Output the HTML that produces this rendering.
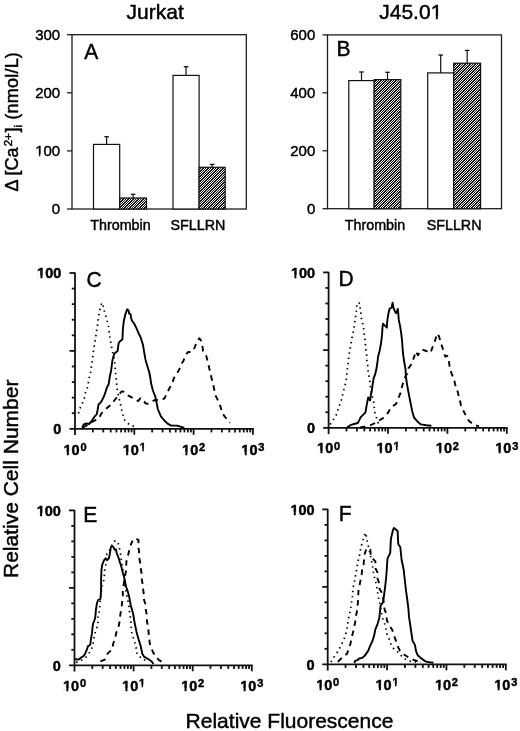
<!DOCTYPE html><html><head><meta charset="utf-8"><style>html,body{margin:0;padding:0;background:#fff;}svg{display:block;filter:grayscale(1);} text{stroke:#000;stroke-width:0.45px;}</style></head><body>
<svg width="520" height="731" viewBox="0 0 520 731" font-family='"Liberation Sans", sans-serif' fill="#000">
<rect width="520" height="731" fill="#fff"/>
<text x="155.2" y="19.2" text-anchor="middle" font-size="21">Jurkat</text>
<text x="410.8" y="18.8" text-anchor="middle" font-size="21">J45.01</text>
<g transform="translate(18,0) rotate(-90)" font-size="18"><text x="-191.6" y="0">&#916; [Ca</text><text x="-146.3" y="-6.2" font-size="11.5">2+</text><text x="-132.4" y="0">]</text><text x="-127.6" y="4.4" font-size="11.5">i</text><text x="-119.7" y="0" letter-spacing="0.22">(nmol/L)</text></g>
<rect x="72" y="34.7" width="174.3" height="174.3" fill="none" stroke="#1e1e1e" stroke-width="1.3"/>
<line x1="67" y1="209" x2="72" y2="209" stroke="#1e1e1e" stroke-width="1.3"/>
<text x="60.2" y="214.2" text-anchor="end" font-size="15">0</text>
<line x1="67" y1="150.9" x2="72" y2="150.9" stroke="#1e1e1e" stroke-width="1.3"/>
<text x="60.2" y="156.1" text-anchor="end" font-size="15">100</text>
<line x1="67" y1="92.8" x2="72" y2="92.8" stroke="#1e1e1e" stroke-width="1.3"/>
<text x="60.2" y="98" text-anchor="end" font-size="15">200</text>
<line x1="67" y1="34.7" x2="72" y2="34.7" stroke="#1e1e1e" stroke-width="1.3"/>
<text x="60.2" y="39.9" text-anchor="end" font-size="15">300</text>
<rect x="93.5" y="144.4" width="26.2" height="64.6" fill="#fff" stroke="#111" stroke-width="1.2"/>
<line x1="106.6" y1="144.4" x2="106.6" y2="136.7" stroke="#111" stroke-width="1.2"/>
<line x1="104.3" y1="136.7" x2="108.9" y2="136.7" stroke="#111" stroke-width="1.3"/>
<clipPath id="c1"><rect x="119.7" y="198" width="26.8" height="11"/></clipPath>
<rect x="119.7" y="198" width="26.8" height="11" fill="#fff"/>
<path clip-path="url(#c1)" d="M108.7 209L119.7 198M111.2 209L122.2 198M113.7 209L124.7 198M116.2 209L127.2 198M118.7 209L129.7 198M121.2 209L132.2 198M123.7 209L134.7 198M126.2 209L137.2 198M128.7 209L139.7 198M131.2 209L142.2 198M133.7 209L144.7 198M136.2 209L147.2 198M138.7 209L149.7 198M141.2 209L152.2 198M143.7 209L154.7 198M146.2 209L157.2 198" stroke="#111" stroke-width="1.0" fill="none" shape-rendering="crispEdges"/>
<rect x="119.7" y="198" width="26.8" height="11" fill="none" stroke="#111" stroke-width="1.2"/>
<line x1="133.1" y1="198" x2="133.1" y2="194.3" stroke="#111" stroke-width="1.2"/>
<line x1="130.8" y1="194.3" x2="135.4" y2="194.3" stroke="#111" stroke-width="1.3"/>
<rect x="173" y="75.4" width="26.1" height="133.6" fill="#fff" stroke="#111" stroke-width="1.2"/>
<line x1="186.05" y1="75.4" x2="186.05" y2="66.7" stroke="#111" stroke-width="1.2"/>
<line x1="183.75" y1="66.7" x2="188.35" y2="66.7" stroke="#111" stroke-width="1.3"/>
<clipPath id="c2"><rect x="199.1" y="167.3" width="26.1" height="41.7"/></clipPath>
<rect x="199.1" y="167.3" width="26.1" height="41.7" fill="#fff"/>
<path clip-path="url(#c2)" d="M157.4 209L199.1 167.3M159.9 209L201.6 167.3M162.4 209L204.1 167.3M164.9 209L206.6 167.3M167.4 209L209.1 167.3M169.9 209L211.6 167.3M172.4 209L214.1 167.3M174.9 209L216.6 167.3M177.4 209L219.1 167.3M179.9 209L221.6 167.3M182.4 209L224.1 167.3M184.9 209L226.6 167.3M187.4 209L229.1 167.3M189.9 209L231.6 167.3M192.4 209L234.1 167.3M194.9 209L236.6 167.3M197.4 209L239.1 167.3M199.9 209L241.6 167.3M202.4 209L244.1 167.3M204.9 209L246.6 167.3M207.4 209L249.1 167.3M209.9 209L251.6 167.3M212.4 209L254.1 167.3M214.9 209L256.6 167.3M217.4 209L259.1 167.3M219.9 209L261.6 167.3M222.4 209L264.1 167.3M224.9 209L266.6 167.3" stroke="#111" stroke-width="1.0" fill="none" shape-rendering="crispEdges"/>
<rect x="199.1" y="167.3" width="26.1" height="41.7" fill="none" stroke="#111" stroke-width="1.2"/>
<line x1="212.15" y1="167.3" x2="212.15" y2="164.4" stroke="#111" stroke-width="1.2"/>
<line x1="209.85" y1="164.4" x2="214.45" y2="164.4" stroke="#111" stroke-width="1.3"/>
<text transform="translate(84.2,58.5) scale(1,1.08)" font-size="21">A</text>
<text x="120.5" y="229.7" text-anchor="middle" font-size="14.3">Thrombin</text>
<text x="198" y="229.7" text-anchor="middle" font-size="14.3">SFLLRN</text>
<rect x="327.5" y="34.9" width="174" height="173.8" fill="none" stroke="#1e1e1e" stroke-width="1.3"/>
<line x1="322.5" y1="208.7" x2="327.5" y2="208.7" stroke="#1e1e1e" stroke-width="1.3"/>
<text x="315.3" y="213.9" text-anchor="end" font-size="15">0</text>
<line x1="322.5" y1="150.77" x2="327.5" y2="150.77" stroke="#1e1e1e" stroke-width="1.3"/>
<text x="315.3" y="155.97" text-anchor="end" font-size="15">200</text>
<line x1="322.5" y1="92.83" x2="327.5" y2="92.83" stroke="#1e1e1e" stroke-width="1.3"/>
<text x="315.3" y="98.03" text-anchor="end" font-size="15">400</text>
<line x1="322.5" y1="34.9" x2="327.5" y2="34.9" stroke="#1e1e1e" stroke-width="1.3"/>
<text x="315.3" y="40.1" text-anchor="end" font-size="15">600</text>
<rect x="348.8" y="80.6" width="25.4" height="128.1" fill="#fff" stroke="#111" stroke-width="1.2"/>
<line x1="361.5" y1="80.6" x2="361.5" y2="72" stroke="#111" stroke-width="1.2"/>
<line x1="359.2" y1="72" x2="363.8" y2="72" stroke="#111" stroke-width="1.3"/>
<clipPath id="c3"><rect x="374.2" y="79.6" width="26.6" height="129.1"/></clipPath>
<rect x="374.2" y="79.6" width="26.6" height="129.1" fill="#fff"/>
<path clip-path="url(#c3)" d="M245.1 208.7L374.2 79.6M247.6 208.7L376.7 79.6M250.1 208.7L379.2 79.6M252.6 208.7L381.7 79.6M255.1 208.7L384.2 79.6M257.6 208.7L386.7 79.6M260.1 208.7L389.2 79.6M262.6 208.7L391.7 79.6M265.1 208.7L394.2 79.6M267.6 208.7L396.7 79.6M270.1 208.7L399.2 79.6M272.6 208.7L401.7 79.6M275.1 208.7L404.2 79.6M277.6 208.7L406.7 79.6M280.1 208.7L409.2 79.6M282.6 208.7L411.7 79.6M285.1 208.7L414.2 79.6M287.6 208.7L416.7 79.6M290.1 208.7L419.2 79.6M292.6 208.7L421.7 79.6M295.1 208.7L424.2 79.6M297.6 208.7L426.7 79.6M300.1 208.7L429.2 79.6M302.6 208.7L431.7 79.6M305.1 208.7L434.2 79.6M307.6 208.7L436.7 79.6M310.1 208.7L439.2 79.6M312.6 208.7L441.7 79.6M315.1 208.7L444.2 79.6M317.6 208.7L446.7 79.6M320.1 208.7L449.2 79.6M322.6 208.7L451.7 79.6M325.1 208.7L454.2 79.6M327.6 208.7L456.7 79.6M330.1 208.7L459.2 79.6M332.6 208.7L461.7 79.6M335.1 208.7L464.2 79.6M337.6 208.7L466.7 79.6M340.1 208.7L469.2 79.6M342.6 208.7L471.7 79.6M345.1 208.7L474.2 79.6M347.6 208.7L476.7 79.6M350.1 208.7L479.2 79.6M352.6 208.7L481.7 79.6M355.1 208.7L484.2 79.6M357.6 208.7L486.7 79.6M360.1 208.7L489.2 79.6M362.6 208.7L491.7 79.6M365.1 208.7L494.2 79.6M367.6 208.7L496.7 79.6M370.1 208.7L499.2 79.6M372.6 208.7L501.7 79.6M375.1 208.7L504.2 79.6M377.6 208.7L506.7 79.6M380.1 208.7L509.2 79.6M382.6 208.7L511.7 79.6M385.1 208.7L514.2 79.6M387.6 208.7L516.7 79.6M390.1 208.7L519.2 79.6M392.6 208.7L521.7 79.6M395.1 208.7L524.2 79.6M397.6 208.7L526.7 79.6M400.1 208.7L529.2 79.6M402.6 208.7L531.7 79.6" stroke="#111" stroke-width="1.0" fill="none" shape-rendering="crispEdges"/>
<rect x="374.2" y="79.6" width="26.6" height="129.1" fill="none" stroke="#111" stroke-width="1.2"/>
<line x1="387.5" y1="79.6" x2="387.5" y2="72.3" stroke="#111" stroke-width="1.2"/>
<line x1="385.2" y1="72.3" x2="389.8" y2="72.3" stroke="#111" stroke-width="1.3"/>
<rect x="427.7" y="72.9" width="26" height="135.8" fill="#fff" stroke="#111" stroke-width="1.2"/>
<line x1="440.7" y1="72.9" x2="440.7" y2="55" stroke="#111" stroke-width="1.2"/>
<line x1="438.4" y1="55" x2="443" y2="55" stroke="#111" stroke-width="1.3"/>
<clipPath id="c4"><rect x="453.7" y="63.2" width="26.9" height="145.5"/></clipPath>
<rect x="453.7" y="63.2" width="26.9" height="145.5" fill="#fff"/>
<path clip-path="url(#c4)" d="M308.2 208.7L453.7 63.2M310.7 208.7L456.2 63.2M313.2 208.7L458.7 63.2M315.7 208.7L461.2 63.2M318.2 208.7L463.7 63.2M320.7 208.7L466.2 63.2M323.2 208.7L468.7 63.2M325.7 208.7L471.2 63.2M328.2 208.7L473.7 63.2M330.7 208.7L476.2 63.2M333.2 208.7L478.7 63.2M335.7 208.7L481.2 63.2M338.2 208.7L483.7 63.2M340.7 208.7L486.2 63.2M343.2 208.7L488.7 63.2M345.7 208.7L491.2 63.2M348.2 208.7L493.7 63.2M350.7 208.7L496.2 63.2M353.2 208.7L498.7 63.2M355.7 208.7L501.2 63.2M358.2 208.7L503.7 63.2M360.7 208.7L506.2 63.2M363.2 208.7L508.7 63.2M365.7 208.7L511.2 63.2M368.2 208.7L513.7 63.2M370.7 208.7L516.2 63.2M373.2 208.7L518.7 63.2M375.7 208.7L521.2 63.2M378.2 208.7L523.7 63.2M380.7 208.7L526.2 63.2M383.2 208.7L528.7 63.2M385.7 208.7L531.2 63.2M388.2 208.7L533.7 63.2M390.7 208.7L536.2 63.2M393.2 208.7L538.7 63.2M395.7 208.7L541.2 63.2M398.2 208.7L543.7 63.2M400.7 208.7L546.2 63.2M403.2 208.7L548.7 63.2M405.7 208.7L551.2 63.2M408.2 208.7L553.7 63.2M410.7 208.7L556.2 63.2M413.2 208.7L558.7 63.2M415.7 208.7L561.2 63.2M418.2 208.7L563.7 63.2M420.7 208.7L566.2 63.2M423.2 208.7L568.7 63.2M425.7 208.7L571.2 63.2M428.2 208.7L573.7 63.2M430.7 208.7L576.2 63.2M433.2 208.7L578.7 63.2M435.7 208.7L581.2 63.2M438.2 208.7L583.7 63.2M440.7 208.7L586.2 63.2M443.2 208.7L588.7 63.2M445.7 208.7L591.2 63.2M448.2 208.7L593.7 63.2M450.7 208.7L596.2 63.2M453.2 208.7L598.7 63.2M455.7 208.7L601.2 63.2M458.2 208.7L603.7 63.2M460.7 208.7L606.2 63.2M463.2 208.7L608.7 63.2M465.7 208.7L611.2 63.2M468.2 208.7L613.7 63.2M470.7 208.7L616.2 63.2M473.2 208.7L618.7 63.2M475.7 208.7L621.2 63.2M478.2 208.7L623.7 63.2M480.7 208.7L626.2 63.2" stroke="#111" stroke-width="1.0" fill="none" shape-rendering="crispEdges"/>
<rect x="453.7" y="63.2" width="26.9" height="145.5" fill="none" stroke="#111" stroke-width="1.2"/>
<line x1="467.15" y1="63.2" x2="467.15" y2="50.4" stroke="#111" stroke-width="1.2"/>
<line x1="464.85" y1="50.4" x2="469.45" y2="50.4" stroke="#111" stroke-width="1.3"/>
<text transform="translate(336.5,55.6) scale(1,1.08)" font-size="21">B</text>
<text x="375" y="229.7" text-anchor="middle" font-size="14.3">Thrombin</text>
<text x="454.1" y="229.7" text-anchor="middle" font-size="14.3">SFLLRN</text>
<g stroke="#111" stroke-width="1.8" fill="none">
<line x1="75" y1="272.5" x2="75" y2="435.1"/>
<line x1="69.5" y1="428.8" x2="253.8" y2="428.8"/>
<line x1="71.8" y1="413.22" x2="75" y2="413.22"/>
<line x1="71.8" y1="397.64" x2="75" y2="397.64"/>
<line x1="71.8" y1="382.06" x2="75" y2="382.06"/>
<line x1="71.8" y1="366.48" x2="75" y2="366.48"/>
<line x1="69.5" y1="350.9" x2="75" y2="350.9"/>
<line x1="71.8" y1="335.32" x2="75" y2="335.32"/>
<line x1="71.8" y1="319.74" x2="75" y2="319.74"/>
<line x1="71.8" y1="304.16" x2="75" y2="304.16"/>
<line x1="71.8" y1="288.58" x2="75" y2="288.58"/>
<line x1="69.5" y1="273" x2="75" y2="273"/>
<line x1="92.85" y1="428.8" x2="92.85" y2="432.4"/>
<line x1="103.29" y1="428.8" x2="103.29" y2="432.4"/>
<line x1="110.7" y1="428.8" x2="110.7" y2="432.4"/>
<line x1="116.45" y1="428.8" x2="116.45" y2="432.4"/>
<line x1="121.14" y1="428.8" x2="121.14" y2="432.4"/>
<line x1="125.11" y1="428.8" x2="125.11" y2="432.4"/>
<line x1="128.55" y1="428.8" x2="128.55" y2="432.4"/>
<line x1="131.59" y1="428.8" x2="131.59" y2="432.4"/>
<line x1="134.3" y1="428.8" x2="134.3" y2="434.8"/>
<line x1="152.15" y1="428.8" x2="152.15" y2="432.4"/>
<line x1="162.59" y1="428.8" x2="162.59" y2="432.4"/>
<line x1="170" y1="428.8" x2="170" y2="432.4"/>
<line x1="175.75" y1="428.8" x2="175.75" y2="432.4"/>
<line x1="180.44" y1="428.8" x2="180.44" y2="432.4"/>
<line x1="184.41" y1="428.8" x2="184.41" y2="432.4"/>
<line x1="187.85" y1="428.8" x2="187.85" y2="432.4"/>
<line x1="190.89" y1="428.8" x2="190.89" y2="432.4"/>
<line x1="193.6" y1="428.8" x2="193.6" y2="434.8"/>
<line x1="211.45" y1="428.8" x2="211.45" y2="432.4"/>
<line x1="221.89" y1="428.8" x2="221.89" y2="432.4"/>
<line x1="229.3" y1="428.8" x2="229.3" y2="432.4"/>
<line x1="235.05" y1="428.8" x2="235.05" y2="432.4"/>
<line x1="239.74" y1="428.8" x2="239.74" y2="432.4"/>
<line x1="243.71" y1="428.8" x2="243.71" y2="432.4"/>
<line x1="247.15" y1="428.8" x2="247.15" y2="432.4"/>
<line x1="250.19" y1="428.8" x2="250.19" y2="432.4"/>
<line x1="252.9" y1="428.8" x2="252.9" y2="434.8"/>
</g>
<polyline points="78.4,413.4 80.3,407.6 82.7,402.3 84.7,397 85.6,391.7 88,386.4 88.5,381.2 89.5,376.3 90.9,371 91.4,365.8 92.3,360.5 93.6,350 95.2,340 96.2,334.1 96.9,328.4 97.9,323.1 98.4,317.8 99.3,312.5 100.3,307.7 101.5,304 102.9,302.9 103.4,308.2 105.1,313.5 106.3,318.3 108,323.6 108.9,328.8 109.4,334.1 110.2,339.9 111.3,345 112.1,350.2 114.5,360 115,365.8 115.4,371 115.9,376.3 116.4,381.6 116.9,386.9 117.8,392.2 118.8,397.5 120.2,402.8 121.2,408.1 122.6,413.4 123.6,418.7 128,423.5 132.4,425.9 137.2,427.4" fill="none" stroke="#000" stroke-width="1.75" stroke-dasharray="1.45 3.85" stroke-linejoin="round"/>
<polyline points="82.25,427.8 83.7,424.4 86.6,423.5 89,424 91.4,421.5 93.8,417.7 95.2,415.8 96.7,414.3 97.6,410 98.6,404.2 100,403.3 101.5,401.3 103.9,396.5 105.3,392.7 106.8,387.9 108.7,384 109.7,377.3 111.1,370.6 112.1,362.9 112.5,360 114.2,353.8 117.6,351 118.6,343.3 120,341.3 122.4,339.4 122.9,328.8 123.8,321.2 125.3,314.4 127.2,309.3 128.65,310.6 129.1,313.5 130.6,314.4 131.3,318.75 132,320.7 134.4,324 136.3,327.9 138.75,333.65 140.5,337 143,344.9 144.2,352.3 145.5,359.7 147.3,365.9 149.2,372 150.4,378.2 151,383.1 152.9,390.5 155.3,396.7 156.6,402.8 157.8,409 160.9,416.4 163.9,420 167.6,423.7 171.3,425.6 176.9,425.6 181.2,426.8 184.3,428" fill="none" stroke="#000" stroke-width="1.9" stroke-linejoin="round"/>
<polyline points="82.5,427.5 87.5,425 92.8,421.5 98.6,418.7 101.5,413.4 105.8,409 111.1,404.7 115.1,399.5 119.3,394.2 121.5,391.5 123.2,391.5 128.5,395.7 133.2,398.2 138.2,401.1 140.5,398.2 142.8,399.5 145.5,403.4 147.5,403.8 149.7,402.6 154.1,400.3 159.6,399.7 164.6,398.5 166.4,394.2 168.9,389.3 172.6,382.5 173.8,378.2 177.5,372.6 180.4,367.4 181.9,363.2 183.5,360.8 185,356.6 187.7,352.2 192.7,351.6 194,349 195.4,345.5 197.7,340.5 199.3,338.3 200.8,340.1 202.3,345.5 203.1,351.2 206.2,355.8 207.7,361.6 208.8,366.2 210.8,375.1 213.5,386.1 215.6,395.7 219.7,403.9 222.4,413.4 226.5,418.9 229.9,423" fill="none" stroke="#000" stroke-width="1.9" stroke-dasharray="5.5 4.8" stroke-linejoin="round"/>
<text x="61.3" y="278.2" text-anchor="end" font-size="14.5" font-weight="bold">100</text>
<text x="61.3" y="434" text-anchor="end" font-size="14.5" font-weight="bold">0</text>
<text x="75" y="454.7" text-anchor="middle" font-weight="bold" font-size="14.5">10<tspan font-size="11" dx="0.8" dy="-3.9">0</tspan></text>
<text x="134.3" y="454.7" text-anchor="middle" font-weight="bold" font-size="14.5">10<tspan font-size="11" dx="0.8" dy="-3.9">1</tspan></text>
<text x="193.6" y="454.7" text-anchor="middle" font-weight="bold" font-size="14.5">10<tspan font-size="11" dx="0.8" dy="-3.9">2</tspan></text>
<text x="252.9" y="454.7" text-anchor="middle" font-weight="bold" font-size="14.5">10<tspan font-size="11" dx="0.8" dy="-3.9">3</tspan></text>
<text transform="translate(86.5,286.5) scale(1,1.08)" font-size="21">C</text>
<g stroke="#111" stroke-width="1.8" fill="none">
<line x1="328.6" y1="271.9" x2="328.6" y2="434.1"/>
<line x1="323.1" y1="427.8" x2="507.6" y2="427.8"/>
<line x1="325.4" y1="412.26" x2="328.6" y2="412.26"/>
<line x1="325.4" y1="396.72" x2="328.6" y2="396.72"/>
<line x1="325.4" y1="381.18" x2="328.6" y2="381.18"/>
<line x1="325.4" y1="365.64" x2="328.6" y2="365.64"/>
<line x1="323.1" y1="350.1" x2="328.6" y2="350.1"/>
<line x1="325.4" y1="334.56" x2="328.6" y2="334.56"/>
<line x1="325.4" y1="319.02" x2="328.6" y2="319.02"/>
<line x1="325.4" y1="303.48" x2="328.6" y2="303.48"/>
<line x1="325.4" y1="287.94" x2="328.6" y2="287.94"/>
<line x1="323.1" y1="272.4" x2="328.6" y2="272.4"/>
<line x1="346.48" y1="427.8" x2="346.48" y2="431.4"/>
<line x1="356.94" y1="427.8" x2="356.94" y2="431.4"/>
<line x1="364.36" y1="427.8" x2="364.36" y2="431.4"/>
<line x1="370.12" y1="427.8" x2="370.12" y2="431.4"/>
<line x1="374.82" y1="427.8" x2="374.82" y2="431.4"/>
<line x1="378.8" y1="427.8" x2="378.8" y2="431.4"/>
<line x1="382.24" y1="427.8" x2="382.24" y2="431.4"/>
<line x1="385.28" y1="427.8" x2="385.28" y2="431.4"/>
<line x1="388" y1="427.8" x2="388" y2="433.8"/>
<line x1="405.88" y1="427.8" x2="405.88" y2="431.4"/>
<line x1="416.34" y1="427.8" x2="416.34" y2="431.4"/>
<line x1="423.76" y1="427.8" x2="423.76" y2="431.4"/>
<line x1="429.52" y1="427.8" x2="429.52" y2="431.4"/>
<line x1="434.22" y1="427.8" x2="434.22" y2="431.4"/>
<line x1="438.2" y1="427.8" x2="438.2" y2="431.4"/>
<line x1="441.64" y1="427.8" x2="441.64" y2="431.4"/>
<line x1="444.68" y1="427.8" x2="444.68" y2="431.4"/>
<line x1="447.4" y1="427.8" x2="447.4" y2="433.8"/>
<line x1="465.28" y1="427.8" x2="465.28" y2="431.4"/>
<line x1="475.74" y1="427.8" x2="475.74" y2="431.4"/>
<line x1="483.16" y1="427.8" x2="483.16" y2="431.4"/>
<line x1="488.92" y1="427.8" x2="488.92" y2="431.4"/>
<line x1="493.62" y1="427.8" x2="493.62" y2="431.4"/>
<line x1="497.6" y1="427.8" x2="497.6" y2="431.4"/>
<line x1="501.04" y1="427.8" x2="501.04" y2="431.4"/>
<line x1="504.08" y1="427.8" x2="504.08" y2="431.4"/>
<line x1="506.8" y1="427.8" x2="506.8" y2="433.8"/>
</g>
<polyline points="330.1,424.4 333.8,419.1 336.7,414.3 338.1,409 340,403.8 341.9,398.5 342.9,393.2 344.3,387.9 345.8,382.6 346.6,377.3 347,372 347.7,366.7 348.5,361.3 348.7,356.1 349.9,350.8 350.6,345.5 351.6,340.2 352.5,334.9 353.8,329.6 354.4,324.3 355.4,319 355.9,313.8 356.7,308.5 356.8,303.5 358.4,302.6 360,303.5 360.2,308.5 361,313.8 361.5,319 362.8,324.3 363.8,329.6 364.3,334.9 365,340.2 365.5,345.5 366,350.8 366.8,356.1 366.8,361.3 367.9,366.7 368.2,372 369.2,377.3 370.1,382.6 370.6,387.9 371.5,393 372.7,398 374,403.3 374.3,408.6 375.1,413.8 377,419.1 378.5,424 381,426.5" fill="none" stroke="#000" stroke-width="1.75" stroke-dasharray="1.45 3.85" stroke-linejoin="round"/>
<polyline points="347.2,427.3 351.1,424.9 354,424 357.8,423 359.3,420.1 360.7,417.2 363.1,414.8 365.5,412.4 366.5,406.2 367.4,401.3 368.2,397.5 368.9,398.9 370.1,400.4 370.8,395.1 371.8,390.8 372.7,384 373.6,378.3 375.1,374.4 376.3,369.6 377.2,364 378.2,356.2 379.7,350.5 381.1,342.8 382,335.2 382.5,327.5 383,323.7 384.9,325.6 386.8,327.5 387.3,320.8 387.8,317 388.7,312.2 389.7,308.4 391.6,307.9 392.6,302.7 393.5,307.9 394.5,310.3 395.9,313.2 396.9,311.7 397.8,308.9 398.3,314.1 398.8,319.9 400.2,326.6 401.2,333.3 402.1,340.9 402.6,348.6 403.1,354.3 404.1,361 405.5,369.2 406,377.3 407.2,385.4 408.9,394.6 410.7,403.8 412.4,411.9 414.1,417.7 417.6,421.7 421,424.4 426.2,425.2 431.4,425.8" fill="none" stroke="#000" stroke-width="1.9" stroke-linejoin="round"/>
<polyline points="360,427.5 365,426.8 369.8,425.4 373,424 376.6,422.3 380,420 383.5,417.7 388.2,412.5 391,407.3 396.2,403.8 398,399.2 400.8,392.3 401.4,388.8 403.2,382.5 405.5,376.2 407.2,373.8 408.4,368.3 410.3,365.9 412.2,362 414.1,357.2 415.6,351.4 418,355.3 419.4,352.9 422.3,349.5 426.2,351 430.5,352.9 432.9,346.2 434.8,341.3 437.4,333.5 439.1,336.5 440.6,342.3 442.5,347.6 443.9,353.4 445.4,356.7 447.3,355.8 448.8,358.2 449.2,363.5 449.8,368.2 451.7,373.9 454.1,379.2 455.1,384.5 457,389.3 458.5,395.1 459.9,399.9 460.9,405.2 463.3,410.5 466.2,416.3 469,421.1 474.3,424.9 479.1,426.3" fill="none" stroke="#000" stroke-width="1.9" stroke-dasharray="5.5 4.8" stroke-linejoin="round"/>
<text x="315.2" y="277.6" text-anchor="end" font-size="14.5" font-weight="bold">100</text>
<text x="315.2" y="433" text-anchor="end" font-size="14.5" font-weight="bold">0</text>
<text x="328.6" y="453.4" text-anchor="middle" font-weight="bold" font-size="14.5">10<tspan font-size="11" dx="0.8" dy="-3.9">0</tspan></text>
<text x="388" y="453.4" text-anchor="middle" font-weight="bold" font-size="14.5">10<tspan font-size="11" dx="0.8" dy="-3.9">1</tspan></text>
<text x="447.4" y="453.4" text-anchor="middle" font-weight="bold" font-size="14.5">10<tspan font-size="11" dx="0.8" dy="-3.9">2</tspan></text>
<text x="506.8" y="453.4" text-anchor="middle" font-weight="bold" font-size="14.5">10<tspan font-size="11" dx="0.8" dy="-3.9">3</tspan></text>
<text transform="translate(338.6,285.6) scale(1,1.08)" font-size="21">D</text>
<g stroke="#111" stroke-width="1.8" fill="none">
<line x1="74.5" y1="509.9" x2="74.5" y2="671.6"/>
<line x1="69" y1="665.3" x2="252.7" y2="665.3"/>
<line x1="71.3" y1="649.81" x2="74.5" y2="649.81"/>
<line x1="71.3" y1="634.32" x2="74.5" y2="634.32"/>
<line x1="71.3" y1="618.83" x2="74.5" y2="618.83"/>
<line x1="71.3" y1="603.34" x2="74.5" y2="603.34"/>
<line x1="69" y1="587.85" x2="74.5" y2="587.85"/>
<line x1="71.3" y1="572.36" x2="74.5" y2="572.36"/>
<line x1="71.3" y1="556.87" x2="74.5" y2="556.87"/>
<line x1="71.3" y1="541.38" x2="74.5" y2="541.38"/>
<line x1="71.3" y1="525.89" x2="74.5" y2="525.89"/>
<line x1="69" y1="510.4" x2="74.5" y2="510.4"/>
<line x1="92.29" y1="665.3" x2="92.29" y2="668.9"/>
<line x1="102.7" y1="665.3" x2="102.7" y2="668.9"/>
<line x1="110.08" y1="665.3" x2="110.08" y2="668.9"/>
<line x1="115.81" y1="665.3" x2="115.81" y2="668.9"/>
<line x1="120.49" y1="665.3" x2="120.49" y2="668.9"/>
<line x1="124.45" y1="665.3" x2="124.45" y2="668.9"/>
<line x1="127.87" y1="665.3" x2="127.87" y2="668.9"/>
<line x1="130.9" y1="665.3" x2="130.9" y2="668.9"/>
<line x1="133.6" y1="665.3" x2="133.6" y2="671.3"/>
<line x1="151.39" y1="665.3" x2="151.39" y2="668.9"/>
<line x1="161.8" y1="665.3" x2="161.8" y2="668.9"/>
<line x1="169.18" y1="665.3" x2="169.18" y2="668.9"/>
<line x1="174.91" y1="665.3" x2="174.91" y2="668.9"/>
<line x1="179.59" y1="665.3" x2="179.59" y2="668.9"/>
<line x1="183.55" y1="665.3" x2="183.55" y2="668.9"/>
<line x1="186.97" y1="665.3" x2="186.97" y2="668.9"/>
<line x1="190" y1="665.3" x2="190" y2="668.9"/>
<line x1="192.7" y1="665.3" x2="192.7" y2="671.3"/>
<line x1="210.49" y1="665.3" x2="210.49" y2="668.9"/>
<line x1="220.9" y1="665.3" x2="220.9" y2="668.9"/>
<line x1="228.28" y1="665.3" x2="228.28" y2="668.9"/>
<line x1="234.01" y1="665.3" x2="234.01" y2="668.9"/>
<line x1="238.69" y1="665.3" x2="238.69" y2="668.9"/>
<line x1="242.65" y1="665.3" x2="242.65" y2="668.9"/>
<line x1="246.07" y1="665.3" x2="246.07" y2="668.9"/>
<line x1="249.1" y1="665.3" x2="249.1" y2="668.9"/>
<line x1="251.8" y1="665.3" x2="251.8" y2="671.3"/>
</g>
<polyline points="76.2,662.4 80.7,660.7 85.8,657.4 89.1,652.9 92,647.8 93.1,642.8 94.2,637.2 95.3,632.1 97,627.1 98.1,621.5 98.1,616.4 99.2,611.4 99.8,606.3 100.8,596 101.9,585.4 104,579.7 104.4,574.8 104.8,569.4 106,564.1 106.4,558.5 106.8,553.8 109.3,550.9 112,545 114.2,541.1 117.1,541.1 118.8,544.9 119.8,550.2 120.8,555.5 121.3,560.8 122.2,566.1 123.5,573 124.6,581 125.1,586.7 126.5,594 127.9,600.8 129,606.5 129.6,612.3 130.5,618.1 131,623.8 131.3,628.5 131.9,633.7 133.7,638.8 135.4,644.6 136.5,649.8 137.1,654.4 141.2,657.9 146.9,661.3" fill="none" stroke="#000" stroke-width="1.75" stroke-dasharray="1.45 3.85" stroke-linejoin="round"/>
<polyline points="75.1,659 77.4,659.6 79.6,659 81.3,657.4 83.5,656.2 85.2,653.4 86.9,649.5 88,646.1 89.1,645.6 90.3,644.5 90.8,640 92,633.2 92.5,627.6 93.1,623.7 94.2,620.9 95.3,617.5 95.9,609.7 97,603 98.1,600.1 100.4,599 100.9,592.9 101.1,585 101.1,579.3 101.5,569.4 102.3,564.5 104,560.4 105.6,558.3 107.2,560 108.9,558.3 109.7,554.6 110.5,549.7 110.9,546.8 112.6,546.4 113.4,547.2 114.6,549.7 115.9,549.3 116.7,553 118.4,557.3 119.8,562 121.3,566.5 122.7,572.3 124.1,577.1 125.1,581.9 126.1,586.7 127.5,590.6 128.9,595.4 130.8,605.4 133.1,613.5 134.8,623.8 136.5,631.9 138.8,640 140.6,645.8 142.3,653.8 144,656.7 148.1,659 151.5,661.3 153.5,664" fill="none" stroke="#000" stroke-width="1.9" stroke-linejoin="round"/>
<polyline points="100.4,661.3 104.9,659.6 107.7,653.4 112.1,649.5 113.3,643.3 115,638.9 116.1,633.2 118.1,628.6 119.2,623.8 119.8,619.2 120.4,614 121.5,608.3 122.1,602.5 123,597.3 122.7,591.5 123.2,587.7 124.6,578.1 126.1,570.4 126.1,566.5 126.5,560.8 128,555.5 129.4,549.7 130.9,544.4 133.3,539.1 136,538.6 138.6,540.1 138.1,546.3 139,550.7 139,556.9 140,561.7 140.5,567.5 141.4,572.3 141.7,578.6 142.4,582.4 142.9,587.7 143.7,593.5 143.8,598.8 145.2,603.7 145.8,610 146.9,615.2 146.9,621 148.1,627.3 148.7,633.1 149.2,638.8 149.8,643.5 150.4,645.8 152.7,651.5 155,655.6 159,660.2 164.2,663.1" fill="none" stroke="#000" stroke-width="1.9" stroke-dasharray="5.5 4.8" stroke-linejoin="round"/>
<text x="60.9" y="515.6" text-anchor="end" font-size="14.5" font-weight="bold">100</text>
<text x="60.9" y="670.5" text-anchor="end" font-size="14.5" font-weight="bold">0</text>
<text x="74.5" y="690.7" text-anchor="middle" font-weight="bold" font-size="14.5">10<tspan font-size="11" dx="0.8" dy="-3.9">0</tspan></text>
<text x="133.6" y="690.7" text-anchor="middle" font-weight="bold" font-size="14.5">10<tspan font-size="11" dx="0.8" dy="-3.9">1</tspan></text>
<text x="192.7" y="690.7" text-anchor="middle" font-weight="bold" font-size="14.5">10<tspan font-size="11" dx="0.8" dy="-3.9">2</tspan></text>
<text x="251.8" y="690.7" text-anchor="middle" font-weight="bold" font-size="14.5">10<tspan font-size="11" dx="0.8" dy="-3.9">3</tspan></text>
<text transform="translate(83.3,521.8) scale(1,1.08)" font-size="21">E</text>
<g stroke="#111" stroke-width="1.8" fill="none">
<line x1="327.7" y1="508.9" x2="327.7" y2="670.6"/>
<line x1="322.2" y1="664.3" x2="506.7" y2="664.3"/>
<line x1="324.5" y1="648.81" x2="327.7" y2="648.81"/>
<line x1="324.5" y1="633.32" x2="327.7" y2="633.32"/>
<line x1="324.5" y1="617.83" x2="327.7" y2="617.83"/>
<line x1="324.5" y1="602.34" x2="327.7" y2="602.34"/>
<line x1="322.2" y1="586.85" x2="327.7" y2="586.85"/>
<line x1="324.5" y1="571.36" x2="327.7" y2="571.36"/>
<line x1="324.5" y1="555.87" x2="327.7" y2="555.87"/>
<line x1="324.5" y1="540.38" x2="327.7" y2="540.38"/>
<line x1="324.5" y1="524.89" x2="327.7" y2="524.89"/>
<line x1="322.2" y1="509.4" x2="327.7" y2="509.4"/>
<line x1="345.57" y1="664.3" x2="345.57" y2="667.9"/>
<line x1="356.03" y1="664.3" x2="356.03" y2="667.9"/>
<line x1="363.44" y1="664.3" x2="363.44" y2="667.9"/>
<line x1="369.2" y1="664.3" x2="369.2" y2="667.9"/>
<line x1="373.9" y1="664.3" x2="373.9" y2="667.9"/>
<line x1="377.87" y1="664.3" x2="377.87" y2="667.9"/>
<line x1="381.32" y1="664.3" x2="381.32" y2="667.9"/>
<line x1="384.35" y1="664.3" x2="384.35" y2="667.9"/>
<line x1="387.07" y1="664.3" x2="387.07" y2="670.3"/>
<line x1="404.94" y1="664.3" x2="404.94" y2="667.9"/>
<line x1="415.4" y1="664.3" x2="415.4" y2="667.9"/>
<line x1="422.81" y1="664.3" x2="422.81" y2="667.9"/>
<line x1="428.57" y1="664.3" x2="428.57" y2="667.9"/>
<line x1="433.27" y1="664.3" x2="433.27" y2="667.9"/>
<line x1="437.24" y1="664.3" x2="437.24" y2="667.9"/>
<line x1="440.69" y1="664.3" x2="440.69" y2="667.9"/>
<line x1="443.72" y1="664.3" x2="443.72" y2="667.9"/>
<line x1="446.44" y1="664.3" x2="446.44" y2="670.3"/>
<line x1="464.31" y1="664.3" x2="464.31" y2="667.9"/>
<line x1="474.77" y1="664.3" x2="474.77" y2="667.9"/>
<line x1="482.18" y1="664.3" x2="482.18" y2="667.9"/>
<line x1="487.94" y1="664.3" x2="487.94" y2="667.9"/>
<line x1="492.64" y1="664.3" x2="492.64" y2="667.9"/>
<line x1="496.61" y1="664.3" x2="496.61" y2="667.9"/>
<line x1="500.06" y1="664.3" x2="500.06" y2="667.9"/>
<line x1="503.09" y1="664.3" x2="503.09" y2="667.9"/>
<line x1="505.81" y1="664.3" x2="505.81" y2="670.3"/>
</g>
<polyline points="330.9,661.9 334.3,656.7 337.8,651.5 340.7,646.3 343,641.2 345.3,636 346.5,630.8 347.6,625.6 348.2,620.4 349.3,615.2 350.5,610 351.1,604.8 352,599.5 352.8,594.3 352.8,589.2 353.9,584 354.9,578.9 355.9,573.3 356.9,568.1 357.5,563 359,557.9 360,552.5 361,547.1 362.6,541.4 364.1,536.3 365.7,532.7 366.7,538.3 367.7,543.5 369,549 370.3,554.8 371.3,559.7 372.3,564.5 373.1,570 373.9,575.3 375.4,580.4 376.4,585.6 377.5,590.7 378,595.8 379.3,601.3 380.8,608 382.2,616.9 384,621.7 385.7,627 386.3,632.4 388.7,637.7 390.5,643.1 392.9,647.9 397,651.4 401.8,656.2 406,659.8 411.3,661.5 417.3,662.1 420.3,662.1" fill="none" stroke="#000" stroke-width="1.75" stroke-dasharray="1.45 3.85" stroke-linejoin="round"/>
<polyline points="354.5,663.1 355.1,660.8 357.4,660.2 359.2,658.5 362,657.9 364.9,655.6 368.4,650.4 370.1,645.8 372.4,641.2 374.2,635.4 375.3,629.6 377.6,623.8 379.3,618.1 379.9,612.3 380.5,606 383.1,602 384,595.5 385.1,587.1 385.9,580 386.5,573.3 387.5,558.5 390.2,553.1 390.9,538.9 392.9,530.2 394,527.9 397.6,530.9 398.3,544.3 400.3,547 401.6,559.8 403.6,569.2 404.8,580 406,590.7 407.2,599 408.4,608.6 409,616.9 410.1,624 411.3,632.4 412.5,640.7 414.9,644.9 416.1,651.4 417.9,655.6 421.5,658.6 425.6,661.5 429.2,662.1 433.4,662.7" fill="none" stroke="#000" stroke-width="1.9" stroke-linejoin="round"/>
<polyline points="337.8,661.9 343,656.7 347,653.8 349.3,647.5 350.5,643.5 351.7,637.7 352.8,633.1 354,627.9 355.1,622.7 355.7,616.9 356.8,612.3 357.4,607.7 358,601.3 358.2,596 358.5,590.2 359.5,585.6 360.5,580.4 361.6,575.3 362.1,570.2 363.6,564.5 364.1,558.9 364.6,554.3 366,550 367.2,548.1 370.3,549.6 370.8,556.8 375.4,561.4 375.4,568.1 377.5,572.7 377.5,578.4 379,583 379.5,588.7 382.1,593.3 383.5,601 384.5,609.2 386.3,613.9 386.9,620.5 388.7,624 392.3,630 393.5,634.2 395.9,640.7 397,644.9 400,650.8 403,653.8 409.5,658 413.7,659.8 418.5,661.5 420.9,662.1" fill="none" stroke="#000" stroke-width="1.9" stroke-dasharray="5.5 4.8" stroke-linejoin="round"/>
<text x="314.6" y="514.6" text-anchor="end" font-size="14.5" font-weight="bold">100</text>
<text x="314.6" y="669.5" text-anchor="end" font-size="14.5" font-weight="bold">0</text>
<text x="327.7" y="690" text-anchor="middle" font-weight="bold" font-size="14.5">10<tspan font-size="11" dx="0.8" dy="-3.9">0</tspan></text>
<text x="387.07" y="690" text-anchor="middle" font-weight="bold" font-size="14.5">10<tspan font-size="11" dx="0.8" dy="-3.9">1</tspan></text>
<text x="446.44" y="690" text-anchor="middle" font-weight="bold" font-size="14.5">10<tspan font-size="11" dx="0.8" dy="-3.9">2</tspan></text>
<text x="505.81" y="690" text-anchor="middle" font-weight="bold" font-size="14.5">10<tspan font-size="11" dx="0.8" dy="-3.9">3</tspan></text>
<text transform="translate(338.8,520.9) scale(1,1.08)" font-size="21">F</text>
<text transform="translate(18.1,478.8) rotate(-90)" text-anchor="middle" font-size="21">Relative Cell Number</text>
<text x="289.5" y="727.6" text-anchor="middle" font-size="21">Relative Fluorescence</text>
<g id="nofoot" fill="#fff"><rect x="431.53" y="16.33" width="4.36" height="4.07"/><rect x="437.78" y="16.33" width="4.20" height="4.07"/><rect x="35.61" y="154.08" width="3.31" height="3.62"/><rect x="40.29" y="154.08" width="3.19" height="3.62"/><rect x="37.31" y="275.82" width="3.15" height="3.98"/><rect x="42.49" y="275.82" width="2.97" height="3.98"/><rect x="63.68" y="452.32" width="3.15" height="3.98"/><rect x="68.86" y="452.32" width="2.97" height="3.98"/><rect x="122.98" y="452.32" width="3.15" height="3.98"/><rect x="128.16" y="452.32" width="2.97" height="3.98"/><rect x="139.70" y="448.78" width="2.55" height="3.62"/><rect x="143.80" y="448.78" width="2.41" height="3.62"/><rect x="182.28" y="452.32" width="3.15" height="3.98"/><rect x="187.46" y="452.32" width="2.97" height="3.98"/><rect x="241.58" y="452.32" width="3.15" height="3.98"/><rect x="246.76" y="452.32" width="2.97" height="3.98"/><rect x="291.21" y="275.22" width="3.15" height="3.98"/><rect x="296.39" y="275.22" width="2.97" height="3.98"/><rect x="317.28" y="451.02" width="3.15" height="3.98"/><rect x="322.46" y="451.02" width="2.97" height="3.98"/><rect x="376.68" y="451.02" width="3.15" height="3.98"/><rect x="381.86" y="451.02" width="2.97" height="3.98"/><rect x="393.40" y="447.48" width="2.55" height="3.62"/><rect x="397.50" y="447.48" width="2.41" height="3.62"/><rect x="436.08" y="451.02" width="3.15" height="3.98"/><rect x="441.26" y="451.02" width="2.97" height="3.98"/><rect x="495.48" y="451.02" width="3.15" height="3.98"/><rect x="500.66" y="451.02" width="2.97" height="3.98"/><rect x="36.91" y="513.22" width="3.15" height="3.98"/><rect x="42.09" y="513.22" width="2.97" height="3.98"/><rect x="63.18" y="688.32" width="3.15" height="3.98"/><rect x="68.36" y="688.32" width="2.97" height="3.98"/><rect x="122.28" y="688.32" width="3.15" height="3.98"/><rect x="127.46" y="688.32" width="2.97" height="3.98"/><rect x="139.00" y="684.78" width="2.55" height="3.62"/><rect x="143.10" y="684.78" width="2.41" height="3.62"/><rect x="181.38" y="688.32" width="3.15" height="3.98"/><rect x="186.56" y="688.32" width="2.97" height="3.98"/><rect x="240.48" y="688.32" width="3.15" height="3.98"/><rect x="245.66" y="688.32" width="2.97" height="3.98"/><rect x="290.61" y="512.22" width="3.15" height="3.98"/><rect x="295.79" y="512.22" width="2.97" height="3.98"/><rect x="316.38" y="687.62" width="3.15" height="3.98"/><rect x="321.56" y="687.62" width="2.97" height="3.98"/><rect x="375.75" y="687.62" width="3.15" height="3.98"/><rect x="380.93" y="687.62" width="2.97" height="3.98"/><rect x="392.47" y="684.08" width="2.55" height="3.62"/><rect x="396.57" y="684.08" width="2.41" height="3.62"/><rect x="435.12" y="687.62" width="3.15" height="3.98"/><rect x="440.30" y="687.62" width="2.97" height="3.98"/><rect x="494.49" y="687.62" width="3.15" height="3.98"/><rect x="499.67" y="687.62" width="2.97" height="3.98"/></g></svg></body></html>
